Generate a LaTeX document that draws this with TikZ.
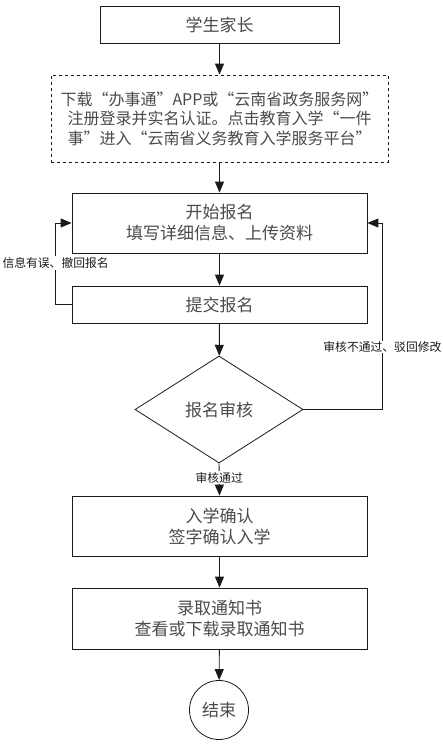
\documentclass[tikz,border=0pt]{standalone}
\usepackage{fontspec}
\usepackage{tikz}
\newfontfamily\cjk{Noto Sans CJK SC}
\definecolor{ink}{HTML}{1A1A1A}
\definecolor{boxtext}{HTML}{4A4A4A}
\usetikzlibrary{
  arrows.meta,
  positioning,
  calc,
  shapes.geometric
}
\tikzset{
  >={Triangle[length=11pt,width=9pt]},
  every picture/.style={line join=miter},
  every node/.style={font=\cjk\fontsize{17}{21}\selectfont, text=boxtext},
  stepbox/.style={
    draw=ink,
    rectangle,
    line width=0.8pt,
    align=center,
    minimum width=295pt,
    inner sep=2pt
  },
  dashbox/.style={stepbox, dashed, minimum width=337pt, minimum height=87pt,
    font=\cjk\fontsize{16}{19.5}\selectfont},
  decision/.style={
    diamond,
    draw=ink,
    line width=0.8pt,
    aspect=1.57,
    minimum width=168pt,
    minimum height=107pt,
    inner sep=0pt
  },
  terminal/.style={circle, draw=ink, line width=0.8pt, minimum size=59pt, inner sep=0pt},
  arrow/.style={->, line width=0.9pt, draw=ink},
  annot/.style={font=\cjk\fontsize{11.8}{13}\selectfont, text=ink, fill=white, inner sep=1pt}
}
\begin{document}
\begin{tikzpicture}[x=1pt, y=-1pt]
  \useasboundingbox (0,0) rectangle (443,747);

  % Steps
  \node[stepbox, minimum width=239pt, minimum height=37pt] (parent) at (219.5,24.5) {学生家长};
  \node[dashbox] (portal) at (219.5,118.5)
    {下载“办事通”APP或“云南省政务服务网”\\注册登录并实名认证。点击教育入学“一件\\事”进入“云南省义务教育入学服务平台”};
  \node[stepbox, minimum height=60pt] (apply) at (219.5,223) {开始报名\\填写详细信息、上传资料};
  \node[stepbox, minimum height=37pt] (submit) at (219.5,304.5) {提交报名};
  \node[decision] (review) at (219,409.5) {报名审核};
  \node[stepbox, minimum height=60pt] (confirm) at (219.5,526) {入学确认\\签字确认入学};
  \node[stepbox, minimum height=61pt] (notice) at (219.5,618.5) {录取通知书\\查看或下载录取通知书};
  \node[terminal] (finish) at (219,710) {结束};

  % Main flow
  \draw[arrow] (parent) -- (portal);
  \draw[arrow] (portal) -- (apply);
  \draw[arrow] (apply) -- (submit);
  \draw[arrow] (submit) -- (review);
  \draw[arrow] (review.south) -- node[annot, pos=0.45] (pass) {审核通过} (confirm.north);
  \draw[arrow] (confirm) -- (notice);
  \draw[arrow] (notice) -- (finish);

  % Loops back
  \draw[arrow] (submit.west) -- ++(-16,0) coordinate (backL) |- (apply.west);
  \node[annot] (withdraw) at (backL|-0,263) {信息有误、撤回报名};
  \draw[arrow] (review.east) -- ++(79,0) coordinate (backR) |- (apply.east);
  \node[annot] (reject) at (backR|-0,347) {审核不通过、驳回修改};
\end{tikzpicture}
\end{document}
